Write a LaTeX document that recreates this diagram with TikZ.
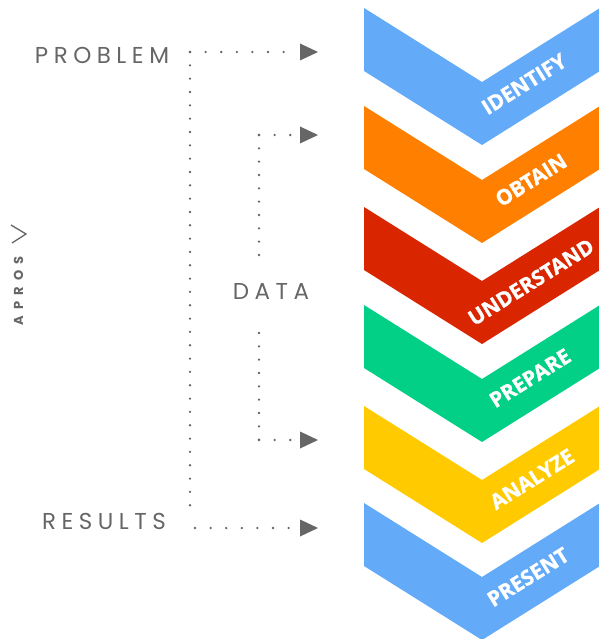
\documentclass[tikz,border=0pt]{standalone}
\usepackage{fontspec}
\newfontfamily\graytxt{Poppins}[LetterSpace=24]
\newfontfamily\logotxt{Poppins}[LetterSpace=48]
\newfontfamily\lbltxt{Open Sans}[FakeBold=1.2]
\definecolor{cblue}{HTML}{63AAF8}
\definecolor{corange}{HTML}{FF7F00}
\definecolor{cred}{HTML}{DA2600}
\definecolor{cgreen}{HTML}{02D087}
\definecolor{cyellow}{HTML}{FFCB00}
\definecolor{cgray}{HTML}{666666}
\begin{document}
\begin{tikzpicture}[x=1pt,y=-1pt,
  chev/.style={fill=#1},
  lbl/.style={text=white,font=\lbltxt\bfseries\fontsize{21}{21}\selectfont,rotate=32,inner sep=0pt},
  word/.style={text=cgray,font=\graytxt\fontsize{23}{23}\selectfont,inner sep=0pt},
  vdots/.style={draw=cgray,line width=2.6pt,line cap=round,dash pattern=on 0pt off 13.33pt},
  hdots/.style={draw=cgray,line width=2.6pt,line cap=round,dash pattern=on 0pt off 15.6pt},
  tri/.style={fill=cgray}]
\useasboundingbox (0,0) rectangle (598,639);
% chevrons
\foreach \y/\c in {8/cblue,106/corange,207/cred,305/cgreen,406/cyellow,503/cblue}{
  \fill[chev=\c] (364,\y) -- (482,\y+74) -- (600,\y) -- (600,\y+63) -- (482,\y+137) -- (364,\y+63) -- cycle;
}
\node[lbl] (l1) at (524,84) {IDENTIFY};
\node[lbl] (l2) at (531,180) {OBTAIN};
\node[lbl] (l3) at (531,282) {UNDERSTAND};
\node[lbl] (l4) at (530,378) {PREPARE};
\node[lbl] (l5) at (532,479) {ANALYZE};
\node[lbl] (l6) at (528,577) {PRESENT};
% words
\node[word] (problem) at (102,55.5) {PROBLEM};
\node[word] (data) at (271,291.5) {DATA};
\node[word] (results) at (104,521.5) {RESULTS};
\node[text=cgray,font=\logotxt\bfseries\fontsize{13}{13}\selectfont,rotate=90,inner sep=0pt] (apros) at (18.5,291) {APROS};
\coordinate (v1) at (11,225);
\coordinate (v2) at (26,234);
\coordinate (v3) at (12,243);
\draw[cgray,line width=1.3pt] (v1) -- (v2) -- (v3);
% connectors
\coordinate (pc) at (190,52);
\coordinate (pe) at (292,52);
\coordinate (rc) at (190,516);
\coordinate (rs) at (195,528);
\coordinate (re) at (290,528);
\coordinate (dt) at (259,135);
\coordinate (dte) at (292,135);
\coordinate (dtb) at (259,256);
\coordinate (dbt) at (259,333);
\coordinate (db) at (259,440);
\coordinate (dbe) at (292,440);
\draw[hdots] (pc) -- (pe);
\draw[vdots] (pc) -- (rc);
\draw[hdots] (rs) -- (re);
\draw[hdots] (dt) -- (dte);
\draw[vdots] (dt) -- (dtb);
\draw[vdots] (dbt) -- (db);
\draw[hdots] (db) -- (dbe);
\coordinate (a1) at (318,52);
\coordinate (a2) at (318,135);
\coordinate (a3) at (318,440);
\coordinate (a4) at (318,528);
\foreach \a in {a1,a2,a3,a4}{
  \fill[tri] (\a) -- ++(-18,-8.5) -- ++(0,17) -- cycle;
}
\end{tikzpicture}
\end{document}
